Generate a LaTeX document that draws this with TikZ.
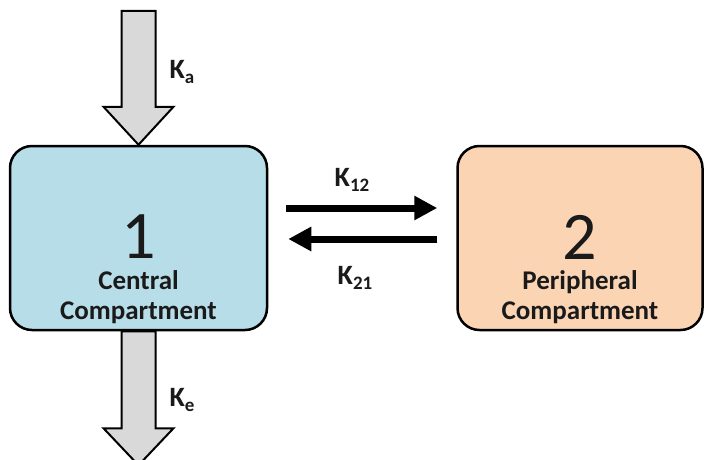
\documentclass[tikz,border=0pt]{standalone}
\usepackage{fontspec}
\setmainfont{Carlito}
\usetikzlibrary{arrows.meta,positioning}
\definecolor{centralblue}{HTML}{B7DDE8}
\definecolor{periphpeach}{HTML}{FBD4B4}
\definecolor{arrowgray}{HTML}{D9D9D9}
\definecolor{inkgray}{HTML}{1A1A1A}
\newcommand{\rate}[1]{K\lower5pt\hbox{\fontsize{19}{19}\selectfont #1}}
\tikzset{
  compbox/.style={draw=black, line width=2.5pt, rounded corners=22pt, inner sep=0pt},
  bignum/.style={font=\fontsize{68}{68}\selectfont, text=inkgray, inner sep=0pt},
  complabel/.style={font=\bfseries\fontsize{27}{30}\selectfont, text=inkgray, align=center, inner sep=0pt},
  klabel/.style={font=\bfseries\fontsize{28}{28}\selectfont, text=inkgray, inner sep=0pt},
  blockarr/.style={draw=black, fill=arrowgray, line width=2pt, line join=miter},
  flow/.style={line width=7pt, -{Triangle[length=23pt,width=23pt]}}
}
\begin{document}
\begin{tikzpicture}[x=1pt,y=-1pt]
	\useasboundingbox (0,0) rectangle (706,459);
	% compartments
	\node[compbox, fill=centralblue, minimum width=257pt, minimum height=184pt] (c1) at (138.5,238) {};
	\node[compbox, fill=periphpeach, minimum width=245pt, minimum height=184pt] (c2) at (580,238) {};
	\node[bignum] (n1) at ([yshift=1pt]c1.center) {1};
	\node[bignum] (n2) at ([yshift=1pt]c2.center) {2};
	\node[complabel, below=11pt of n1] (t1) {Central\\Compartment};
	\node[complabel, below=11pt of n2] (t2) {Peripheral\\Compartment};
	% absorption and elimination
	\draw[blockarr] (c1.north) -- ++(-35,-38) -- ++(18,0) -- ++(0,-96) -- ++(34,0) -- ++(0,96) -- ++(18,0) -- cycle;
	\draw[blockarr] ([xshift=-17pt]c1.south) -- ++(0,97) -- ++(-18,0) -- ++(35,37) -- ++(35,-37) -- ++(-18,0) -- ++(0,-97) -- cycle;
	\node[klabel] (ka) at (182,72) {\rate{a}};
	\node[klabel] (ke) at (182,400) {\rate{e}};
	% distribution
	\draw[flow, shorten <=18pt, shorten >=19pt] ([yshift=30pt]c1.east) -- ([yshift=30pt]c2.west);
	\draw[flow, shorten <=19pt, shorten >=20pt] ([yshift=-1pt]c2.west) -- ([yshift=-1pt]c1.east);
	\node[klabel] (k12) at (352,180) {\rate{12}};
	\node[klabel] (k21) at (355,278) {\rate{21}};
\end{tikzpicture}
\end{document}
